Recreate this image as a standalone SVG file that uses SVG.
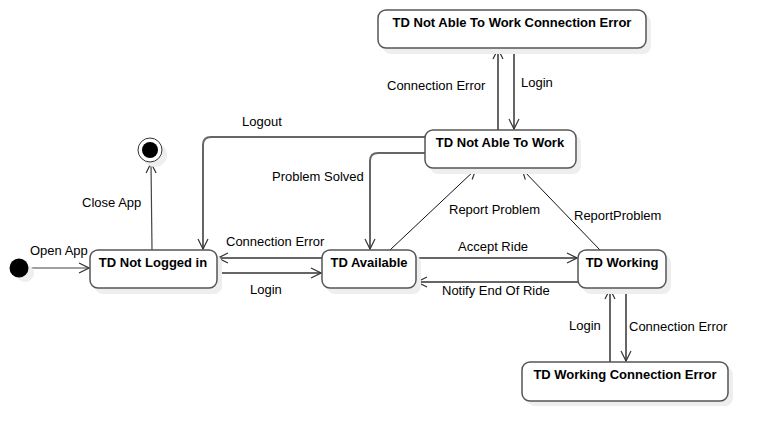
<svg xmlns="http://www.w3.org/2000/svg" width="767" height="441" viewBox="0 0 767 441">
<defs>
<style>
.node rect.b{fill:#fff;stroke:#555;stroke-width:1.5}
.node rect.s{fill:#eee;stroke:none}
.t{font-family:"Liberation Sans",Arial,sans-serif;font-size:13px;font-weight:bold;fill:#000;text-anchor:middle}
.l{font-family:"Liberation Sans",Arial,sans-serif;font-size:13px;fill:#000}
.c{fill:none;stroke:#666;stroke-width:2}
.d{fill:none;stroke:#111;stroke-width:1}
</style>
<marker id="a" viewBox="0 0 12 12" refX="11" refY="6" markerWidth="12" markerHeight="12" markerUnits="userSpaceOnUse" orient="auto">
<path d="M1,1 L11,6 L1,11" fill="none" stroke="#333" stroke-width="1.2"/>
</marker>
</defs>
<rect width="767" height="441" fill="#fff"/>

<g id="connectors">
<line class="c" x1="29" y1="268" x2="89" y2="268" marker-end="url(#a)" style="stroke-width:1.2;stroke:#444"/>
<line class="c" x1="152" y1="250" x2="151" y2="163" marker-end="url(#a)" style="stroke-width:1.2;stroke:#444"/>
<path class="c" d="M425,137 H211 Q203,137 203,145 V249" marker-end="url(#a)"/>
<path class="c" d="M425,153 H378 Q370,153 370,161 V249" marker-end="url(#a)"/>
<line class="c" x1="322" y1="258" x2="218" y2="258" marker-end="url(#a)"/>
<line class="c" x1="217" y1="273" x2="321" y2="273" marker-end="url(#a)"/>
<line class="d" x1="390" y1="250" x2="476" y2="169" marker-end="url(#a)"/>
<line class="d" x1="600" y1="250" x2="522" y2="169" marker-end="url(#a)"/>
<line class="c" x1="416" y1="258" x2="577" y2="258" marker-end="url(#a)"/>
<line class="c" x1="578" y1="282" x2="417" y2="282" marker-end="url(#a)"/>
<line class="c" x1="498" y1="130" x2="498" y2="49" marker-end="url(#a)"/>
<line class="c" x1="514" y1="49" x2="514" y2="129" marker-end="url(#a)"/>
<line class="c" x1="610" y1="362" x2="610" y2="289" marker-end="url(#a)"/>
<line class="c" x1="626" y1="288" x2="626" y2="361" marker-end="url(#a)"/>
</g>

<g id="labels">
<text class="l" x="30" y="255">Open App</text>
<text class="l" x="82" y="207">Close App</text>
<text class="l" x="242" y="126">Logout</text>
<text class="l" x="272" y="181">Problem Solved</text>
<text class="l" x="226" y="246">Connection Error</text>
<text class="l" x="250" y="294">Login</text>
<text class="l" x="449" y="214">Report Problem</text>
<text class="l" x="574" y="220">ReportProblem</text>
<text class="l" x="458" y="251">Accept Ride</text>
<text class="l" x="442" y="295">Notify End Of Ride</text>
<text class="l" x="387" y="90">Connection Error</text>
<text class="l" x="521" y="87">Login</text>
<text class="l" x="569" y="330">Login</text>
<text class="l" x="629" y="331">Connection Error</text>
</g>

<g id="initial">
<circle cx="25" cy="273" r="9" fill="#eee"/>
<circle cx="19" cy="268" r="9.5" fill="#000"/>
</g>

<g id="final">
<circle cx="155" cy="155" r="12" fill="#eee"/>
<circle cx="150" cy="150" r="12" fill="#fff" stroke="#333" stroke-width="1"/>
<circle cx="150" cy="150" r="8" fill="#000"/>
</g>

<g id="nate" class="node">
<rect class="s" x="383" y="15" width="268" height="39" rx="8"/>
<rect class="b" x="378" y="10" width="268" height="38" rx="8"/>
<text class="t" x="512" y="27">TD Not Able To Work Connection Error</text>
</g>
<g id="natw" class="node">
<rect class="s" x="430" y="135" width="151" height="39" rx="8"/>
<rect class="b" x="425" y="130" width="151" height="38" rx="8"/>
<text class="t" x="500" y="147">TD Not Able To Work</text>
</g>
<g id="notlogged" class="node">
<rect class="s" x="95" y="255" width="127" height="39" rx="8"/>
<rect class="b" x="90" y="250" width="127" height="38" rx="8"/>
<text class="t" x="153" y="267">TD Not Logged in</text>
</g>
<g id="available" class="node">
<rect class="s" x="327" y="255" width="94" height="39" rx="8"/>
<rect class="b" x="322" y="250" width="94" height="38" rx="8"/>
<text class="t" x="369" y="267">TD Available</text>
</g>
<g id="working" class="node">
<rect class="s" x="583" y="255" width="88" height="39" rx="8"/>
<rect class="b" x="578" y="250" width="88" height="38" rx="8"/>
<text class="t" x="622" y="267">TD Working</text>
</g>
<g id="wce" class="node">
<rect class="s" x="527" y="367" width="206" height="39" rx="8"/>
<rect class="b" x="522" y="362" width="206" height="39" rx="8"/>
<text class="t" x="625" y="379">TD Working Connection Error</text>
</g>
</svg>
